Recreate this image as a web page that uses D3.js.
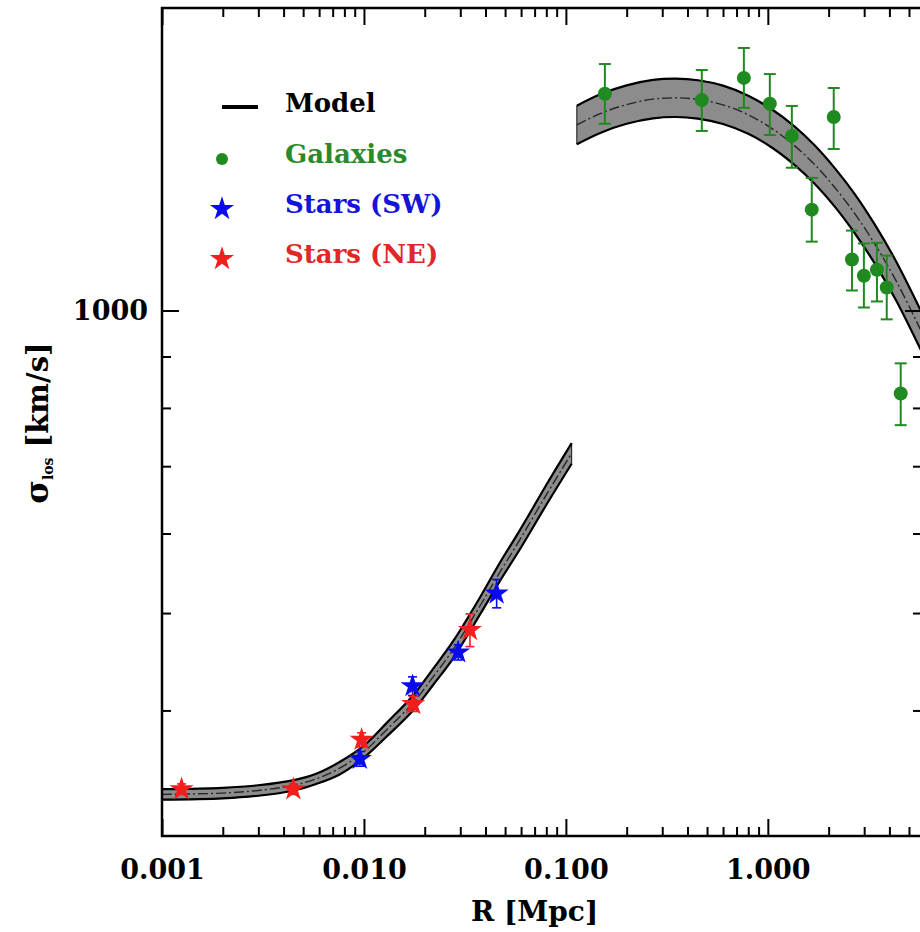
<!DOCTYPE html>
<html>
<head>
<meta charset="utf-8">
<script src="https://cdn.jsdelivr.net/npm/d3@7"></script>
<style>
    body { margin: 0; background: #fff; }
    text { font-family: "DejaVu Serif", serif; font-weight: bold; }
</style>
</head>
<body>
<div id="chart"></div>
<script>

// model band, stellar part (R in Mpc, sigma in km/s)
var starModelR = [0.001, 0.002, 0.003, 0.0045, 0.0058, 0.0075, 0.01, 0.013, 0.0175, 0.022, 0.0277, 0.0377, 0.0471, 0.0593, 0.0805, 0.1068];
var starModelMid = [330, 331, 333, 337, 342, 350, 364, 383, 407, 432, 460, 509, 549, 592, 657, 721];
var starModelLo = [326, 327, 329, 333, 338, 345, 359, 377, 400, 424, 451, 499, 538, 579, 642, 704];
var starModelHi = [334, 335, 337, 341, 346, 355, 369, 389, 414, 440, 469, 519, 561, 605, 672, 738];

// model band, galaxy part
var galModelR = [0.1133, 0.15, 0.2, 0.27, 0.35, 0.45, 0.6, 0.8, 1.05, 1.35, 1.7, 2.15, 2.7, 3.4, 4.3, 5.4, 6.4];
var galModelMid = [1530, 1572, 1603, 1623, 1628, 1622, 1602, 1566, 1517, 1460, 1398, 1325, 1248, 1163, 1072, 979, 912];
var galModelLo = [1464, 1504, 1534, 1553, 1558, 1552, 1533, 1499, 1452, 1397, 1338, 1268, 1193, 1112, 1025, 936, 872];
var galModelHi = [1599, 1643, 1675, 1696, 1701, 1695, 1674, 1636, 1585, 1526, 1461, 1385, 1305, 1216, 1121, 1024, 954];

// galaxies
var galR = [0.156, 0.471, 0.761, 1.023, 1.315, 1.65, 2.12, 2.61, 2.99, 3.47, 3.88, 4.55];
var galSigma = [1643, 1620, 1704, 1606, 1492, 1260, 1558, 1124, 1083, 1098, 1054, 827];
var galErrLo = [1534, 1509, 1591, 1495, 1387, 1171, 1448, 1047, 1007, 1021, 980, 769];
var galErrHi = [1759, 1735, 1825, 1719, 1598, 1355, 1665, 1201, 1166, 1168, 1134, 886];

// stars, north-east side
var neR = [0.00125, 0.00447, 0.00974, 0.01754, 0.0335];
var neSigma = [334, 334, 374, 406, 481];
var neErr = [4, 4, 6, 7, 18];

// stars, south-west side
var swR = [0.00955, 0.0174, 0.0293, 0.0454];
var swSigma = [358, 423, 457, 523];
var swErr = [6, 9, 8, 17];

// ticks
var xMajorTicks = [0.001, 0.01, 0.1, 1];
var xTickLabels = ["0.001", "0.010", "0.100", "1.000"];
var yMajorTicks = [1000];
var yTickLabels = ["1000"];
var yMinorTicks = [400, 500, 600, 700, 800, 900];

var legendNames = ["Model", "Galaxies", "Stars (SW)", "Stars (NE)"];

var green = "#1f8a1f";
var blue = "#0a0af0";
var red = "#f51e1e";

// svg container
var svgWidth = 920;
var svgHeight = 932;

var margin = {
    top: 8,
    right: -2,
    bottom: 96,
    left: 162
};

var width = svgWidth - margin.left - margin.right;
var height = svgHeight - margin.top - margin.bottom;

var svg = d3.select("#chart")
    .append("svg")
    .attr("width", svgWidth)
    .attr("height", svgHeight);

var chartGroup = svg.append("g")
    .attr("transform", `translate(${margin.left}, ${margin.top})`);

chartGroup.append("clipPath")
    .attr("id", "plotclip")
    .append("rect")
    .attr("width", width)
    .attr("height", height);

// log scales on both axes
var xLogScale = d3.scaleLog()
    .domain([0.001, 5.8])
    .range([0, width]);

var yLogScale = d3.scaleLog()
    .domain([300, 2000])
    .range([height, 0]);

// minor ticks on x: 2..9 in every decade
var xMinorTicks = [];
xMajorTicks.forEach(function(dec) {
    for (var k = 2; k <= 9; k++) {
        if (k * dec <= 5.8) xMinorTicks.push(k * dec);
    }
});

// ---- model bands ----
function makeBand(rs, lo, mid, hi) {
    return rs.map(function(r, i) {
        return { r: r, lo: lo[i], mid: mid[i], hi: hi[i] };
    });
}

var bands = [
    makeBand(starModelR, starModelLo, starModelMid, starModelHi),
    makeBand(galModelR, galModelLo, galModelMid, galModelHi)
];

var plotArea = chartGroup.append("g").attr("clip-path", "url(#plotclip)");

var smooth = d3.curveCatmullRom.alpha(0.5);

var bandArea = d3.area()
    .x(d => xLogScale(d.r))
    .y0(d => yLogScale(d.lo))
    .y1(d => yLogScale(d.hi))
    .curve(smooth);

var lineLo = d3.line().x(d => xLogScale(d.r)).y(d => yLogScale(d.lo)).curve(smooth);
var lineHi = d3.line().x(d => xLogScale(d.r)).y(d => yLogScale(d.hi)).curve(smooth);
var lineMid = d3.line().x(d => xLogScale(d.r)).y(d => yLogScale(d.mid)).curve(smooth);

bands.forEach(function(band) {
    plotArea.append("path")
        .datum(band)
        .attr("d", bandArea)
        .attr("fill", "#8c8c8c")
        .attr("stroke", "#111")
        .attr("stroke-width", 1);
    plotArea.append("path")
        .datum(band)
        .attr("d", lineLo)
        .attr("fill", "none")
        .attr("stroke", "#000")
        .attr("stroke-width", 2.2);
    plotArea.append("path")
        .datum(band)
        .attr("d", lineHi)
        .attr("fill", "none")
        .attr("stroke", "#000")
        .attr("stroke-width", 2.2);
    plotArea.append("path")
        .datum(band)
        .attr("d", lineMid)
        .attr("fill", "none")
        .attr("stroke", "#262626")
        .attr("stroke-width", 1.4)
        .attr("stroke-dasharray", "10,3,2,3");
});

// ---- error bars ----
function drawErrors(group, rows, colour, capW, sw) {
    var g = group.append("g").attr("stroke", colour).attr("stroke-width", sw);
    g.selectAll(".ebar")
        .data(rows)
        .enter()
        .append("line")
        .attr("x1", d => xLogScale(d.r))
        .attr("x2", d => xLogScale(d.r))
        .attr("y1", d => yLogScale(d.lo))
        .attr("y2", d => yLogScale(d.hi));
    g.selectAll(".capTop")
        .data(rows)
        .enter()
        .append("line")
        .attr("x1", d => xLogScale(d.r) - capW / 2)
        .attr("x2", d => xLogScale(d.r) + capW / 2)
        .attr("y1", d => yLogScale(d.hi))
        .attr("y2", d => yLogScale(d.hi));
    g.selectAll(".capBot")
        .data(rows)
        .enter()
        .append("line")
        .attr("x1", d => xLogScale(d.r) - capW / 2)
        .attr("x2", d => xLogScale(d.r) + capW / 2)
        .attr("y1", d => yLogScale(d.lo))
        .attr("y2", d => yLogScale(d.lo));
}

var galRows = galR.map(function(r, i) {
    return { r: r, s: galSigma[i], lo: galErrLo[i], hi: galErrHi[i] };
});
var neRows = neR.map(function(r, i) {
    return { r: r, s: neSigma[i], lo: neSigma[i] - neErr[i], hi: neSigma[i] + neErr[i] };
});
var swRows = swR.map(function(r, i) {
    return { r: r, s: swSigma[i], lo: swSigma[i] - swErr[i], hi: swSigma[i] + swErr[i] };
});

drawErrors(plotArea, galRows, green, 12, 2);
drawErrors(plotArea, swRows, blue, 9, 1.6);
drawErrors(plotArea, neRows, red, 9, 1.6);

// galaxies as filled circles
plotArea.selectAll(".gal")
    .data(galRows)
    .enter()
    .append("circle")
    .attr("class", "gal")
    .attr("cx", d => xLogScale(d.r))
    .attr("cy", d => yLogScale(d.s))
    .attr("r", 7)
    .attr("fill", green);

// stars as star symbols
var starShape = d3.symbol().type(d3.symbolStar).size(180);

plotArea.selectAll(".sw")
    .data(swRows)
    .enter()
    .append("path")
    .attr("class", "sw")
    .attr("d", starShape)
    .attr("transform", d => `translate(${xLogScale(d.r)}, ${yLogScale(d.s)})`)
    .attr("fill", blue);

plotArea.selectAll(".ne")
    .data(neRows)
    .enter()
    .append("path")
    .attr("class", "ne")
    .attr("d", starShape)
    .attr("transform", d => `translate(${xLogScale(d.r)}, ${yLogScale(d.s)})`)
    .attr("fill", red);

// ---- axes: ticks pointing inwards on all four sides ----
function styleAxis(g) {
    g.select(".domain").remove();
    g.selectAll("line").attr("stroke", "#000").attr("stroke-width", 2);
}

chartGroup.append("g")
    .attr("transform", `translate(0, ${height})`)
    .call(d3.axisTop(xLogScale).tickValues(xMajorTicks).tickSize(17).tickFormat(""))
    .call(styleAxis);
chartGroup.append("g")
    .attr("transform", `translate(0, ${height})`)
    .call(d3.axisTop(xLogScale).tickValues(xMinorTicks).tickSize(9).tickFormat(""))
    .call(styleAxis);
chartGroup.append("g")
    .call(d3.axisBottom(xLogScale).tickValues(xMajorTicks).tickSize(17).tickFormat(""))
    .call(styleAxis);
chartGroup.append("g")
    .call(d3.axisBottom(xLogScale).tickValues(xMinorTicks).tickSize(9).tickFormat(""))
    .call(styleAxis);

chartGroup.append("g")
    .call(d3.axisRight(yLogScale).tickValues(yMajorTicks).tickSize(17).tickFormat(""))
    .call(styleAxis);
chartGroup.append("g")
    .call(d3.axisRight(yLogScale).tickValues(yMinorTicks).tickSize(9).tickFormat(""))
    .call(styleAxis);
chartGroup.append("g")
    .attr("transform", `translate(${width}, 0)`)
    .call(d3.axisLeft(yLogScale).tickValues(yMajorTicks).tickSize(17).tickFormat(""))
    .call(styleAxis);
chartGroup.append("g")
    .attr("transform", `translate(${width}, 0)`)
    .call(d3.axisLeft(yLogScale).tickValues(yMinorTicks).tickSize(9).tickFormat(""))
    .call(styleAxis);

// tick labels
var xLabelAxis = chartGroup.append("g")
    .attr("transform", `translate(0, ${height})`)
    .call(d3.axisBottom(xLogScale).tickValues(xMajorTicks).tickSize(0).tickPadding(24)
        .tickFormat((d, i) => xTickLabels[i]));
xLabelAxis.select(".domain").remove();
xLabelAxis.selectAll("text")
    .attr("font-family", "DejaVu Serif")
    .attr("font-size", 27)
    .attr("fill", "#000");

var yLabelAxis = chartGroup.append("g")
    .call(d3.axisLeft(yLogScale).tickValues(yMajorTicks).tickSize(0).tickPadding(14)
        .tickFormat((d, i) => yTickLabels[i]));
yLabelAxis.select(".domain").remove();
yLabelAxis.selectAll("text")
    .attr("font-family", "DejaVu Serif")
    .attr("font-size", 27)
    .attr("fill", "#000");

// frame
chartGroup.append("rect")
    .attr("width", width)
    .attr("height", height)
    .attr("fill", "none")
    .attr("stroke", "#000")
    .attr("stroke-width", 2.5);

// axis titles
svg.append("text")
    .attr("x", margin.left + xLogScale(0.07))
    .attr("y", 921)
    .attr("text-anchor", "middle")
    .attr("font-size", 28)
    .text("R [Mpc]");

var yTitle = svg.append("text")
    .attr("transform", "translate(48, 423) rotate(-90)")
    .attr("text-anchor", "middle")
    .attr("font-size", 29);
yTitle.append("tspan").attr("font-size", 32).text("σ");
yTitle.append("tspan").attr("font-size", 14).attr("dy", 5).text("los");
yTitle.append("tspan").attr("dy", -5).text(" [km/s]");

// legend
var legend = svg.append("g");
var legendY = [107, 158, 208, 258];
var legendColours = ["#000", "#2a8a2a", "#1414d8", "#e02828"];

legend.append("line")
    .attr("x1", 222)
    .attr("x2", 258)
    .attr("y1", legendY[0])
    .attr("y2", legendY[0])
    .attr("stroke", "#000")
    .attr("stroke-width", 4);
legend.append("circle")
    .attr("cx", 222)
    .attr("cy", legendY[1] + 1)
    .attr("r", 6)
    .attr("fill", green);
legend.append("path")
    .attr("d", starShape)
    .attr("transform", `translate(222, ${legendY[2] + 1})`)
    .attr("fill", blue);
legend.append("path")
    .attr("d", starShape)
    .attr("transform", `translate(222, ${legendY[3] + 1})`)
    .attr("fill", red);

legend.selectAll(".legtext")
    .data(legendNames)
    .enter()
    .append("text")
    .attr("class", "legtext")
    .attr("x", 285)
    .attr("y", (d, i) => legendY[i] + 5)
    .attr("font-size", 26)
    .attr("fill", (d, i) => legendColours[i])
    .text(d => d);

</script>
</body>
</html>
